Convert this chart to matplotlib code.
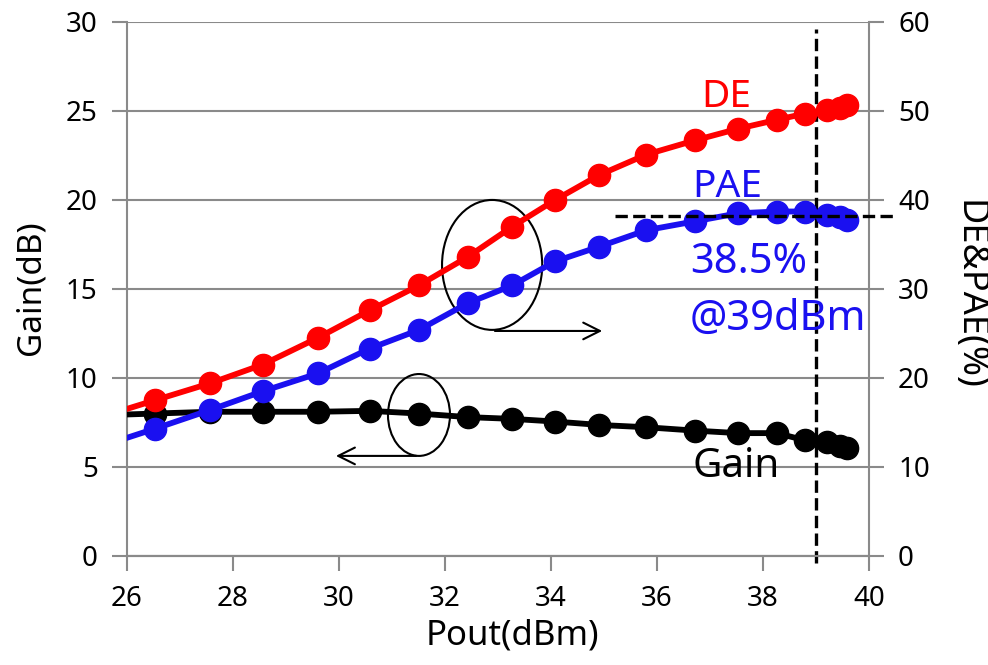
import matplotlib.pyplot as plt
from matplotlib.patches import Ellipse

plt.rcParams['font.family'] = ['Noto Sans', 'DejaVu Sans']

# Pout (dBm); first point lies just left of the axis so the curves reach the edge
pout = [25.5, 26.53, 27.57, 28.56, 29.6, 30.58, 31.51, 32.43, 33.27, 34.08,
        34.91, 35.8, 36.72, 37.53, 38.26, 38.79, 39.2, 39.45, 39.58]
gain = [7.9, 8.0, 8.1, 8.1, 8.1, 8.15, 8.0, 7.8, 7.7, 7.55,
        7.36, 7.23, 7.04, 6.9, 6.9, 6.5, 6.4, 6.2, 6.05]
de = [15.6, 17.5, 19.4, 21.5, 24.5, 27.6, 30.4, 33.6, 37.0, 40.0,
      42.8, 45.1, 46.7, 48.0, 49.0, 49.7, 50.1, 50.3, 50.7]
pae = [12.3, 14.3, 16.4, 18.5, 20.5, 23.3, 25.4, 28.4, 30.4, 33.1,
       34.75, 36.6, 37.6, 38.5, 38.7, 38.7, 38.3, 38.1, 37.75]

xticks = [26, 28, 30, 32, 34, 36, 38, 40]
gain_ticks = [0, 5, 10, 15, 20, 25, 30]
eff_ticks = [0, 10, 20, 30, 40, 50, 60]

grey = '#8a8a8a'
fs = 20

fig = plt.figure(figsize=(9.88, 6.65), dpi=100)
ax = fig.add_axes([0.1285, 0.164, 0.751, 0.803])
ax2 = ax.twinx()

ax.plot(pout, gain, '-o', color='black', lw=4.2, ms=16, zorder=3)
ax2.plot(pout, pae, '-o', color='#1a10f0', lw=4.2, ms=16, zorder=3)
ax2.plot(pout, de, '-o', color='#ff0000', lw=4.2, ms=16, zorder=4)

ax.set_xlim(26, 40)
ax.set_ylim(0, 30)
ax2.set_ylim(0, 60)
ax.set_xticks(xticks)
ax.set_yticks(gain_ticks)
ax2.set_yticks(eff_ticks)

ax.yaxis.grid(True, color=grey, lw=1.5)
ax.set_axisbelow(True)

for a in (ax, ax2):
    a.spines['top'].set_visible(False)
    for s in ['left', 'right', 'bottom']:
        a.spines[s].set_color(grey)
        a.spines[s].set_linewidth(1.5)
    a.tick_params(direction='out', length=11, width=1.5, color=grey,
                  labelsize=fs, pad=10)
ax2.spines['left'].set_visible(False)
ax.spines['right'].set_visible(False)

fig.text(0.519, 0.044, 'Pout(dBm)', fontsize=25, ha='center', va='center')
fig.text(0.0314, 0.567, 'Gain(dB)', fontsize=24, rotation=90, ha='center', va='center')
fig.text(0.980, 0.556, 'DE&PAE(%)', fontsize=26, rotation=270, ha='center', va='center')

# marker lines at 39 dBm and peak PAE
ax.plot([39, 39], [-0.4, 29.6], '--', color='black', lw=2.4, clip_on=False, zorder=5)
ax2.plot([35.2, 40.5], [38.2, 38.2], '--', color='black', lw=2.4, clip_on=False, zorder=5)

# ellipses with arrows pointing to each axis
ax.add_patch(Ellipse((32.89, 16.35), 1.89, 7.3, fill=False, color='black', lw=1.5, zorder=6))
ax.add_patch(Ellipse((31.51, 7.92), 1.17, 4.6, fill=False, color='black', lw=1.5, zorder=6))
ax.annotate('', xy=(35.02, 12.64), xytext=(32.89, 12.64),
            arrowprops=dict(arrowstyle='->', lw=1.5, mutation_scale=30), zorder=6)
ax.annotate('', xy=(29.89, 5.62), xytext=(31.51, 5.62),
            arrowprops=dict(arrowstyle='->', lw=1.5, mutation_scale=30), zorder=6)

ax.text(37.31, 25.8, 'DE', color='#ff0000', fontsize=28, ha='center', va='center', zorder=7)
ax.text(37.32, 20.7, 'PAE', color='#1a10f0', fontsize=28, ha='center', va='center', zorder=7)
ax.text(36.62, 16.5, '38.5%', color='#1a10f0', fontsize=30, ha='left', va='center', zorder=7)
ax.text(36.62, 13.3, '@39dBm', color='#1a10f0', fontsize=30, ha='left', va='center', zorder=7)
ax.text(37.5, 5.0, 'Gain', color='black', fontsize=29, ha='center', va='center', zorder=7)

fig.savefig('out.png', dpi=100)
